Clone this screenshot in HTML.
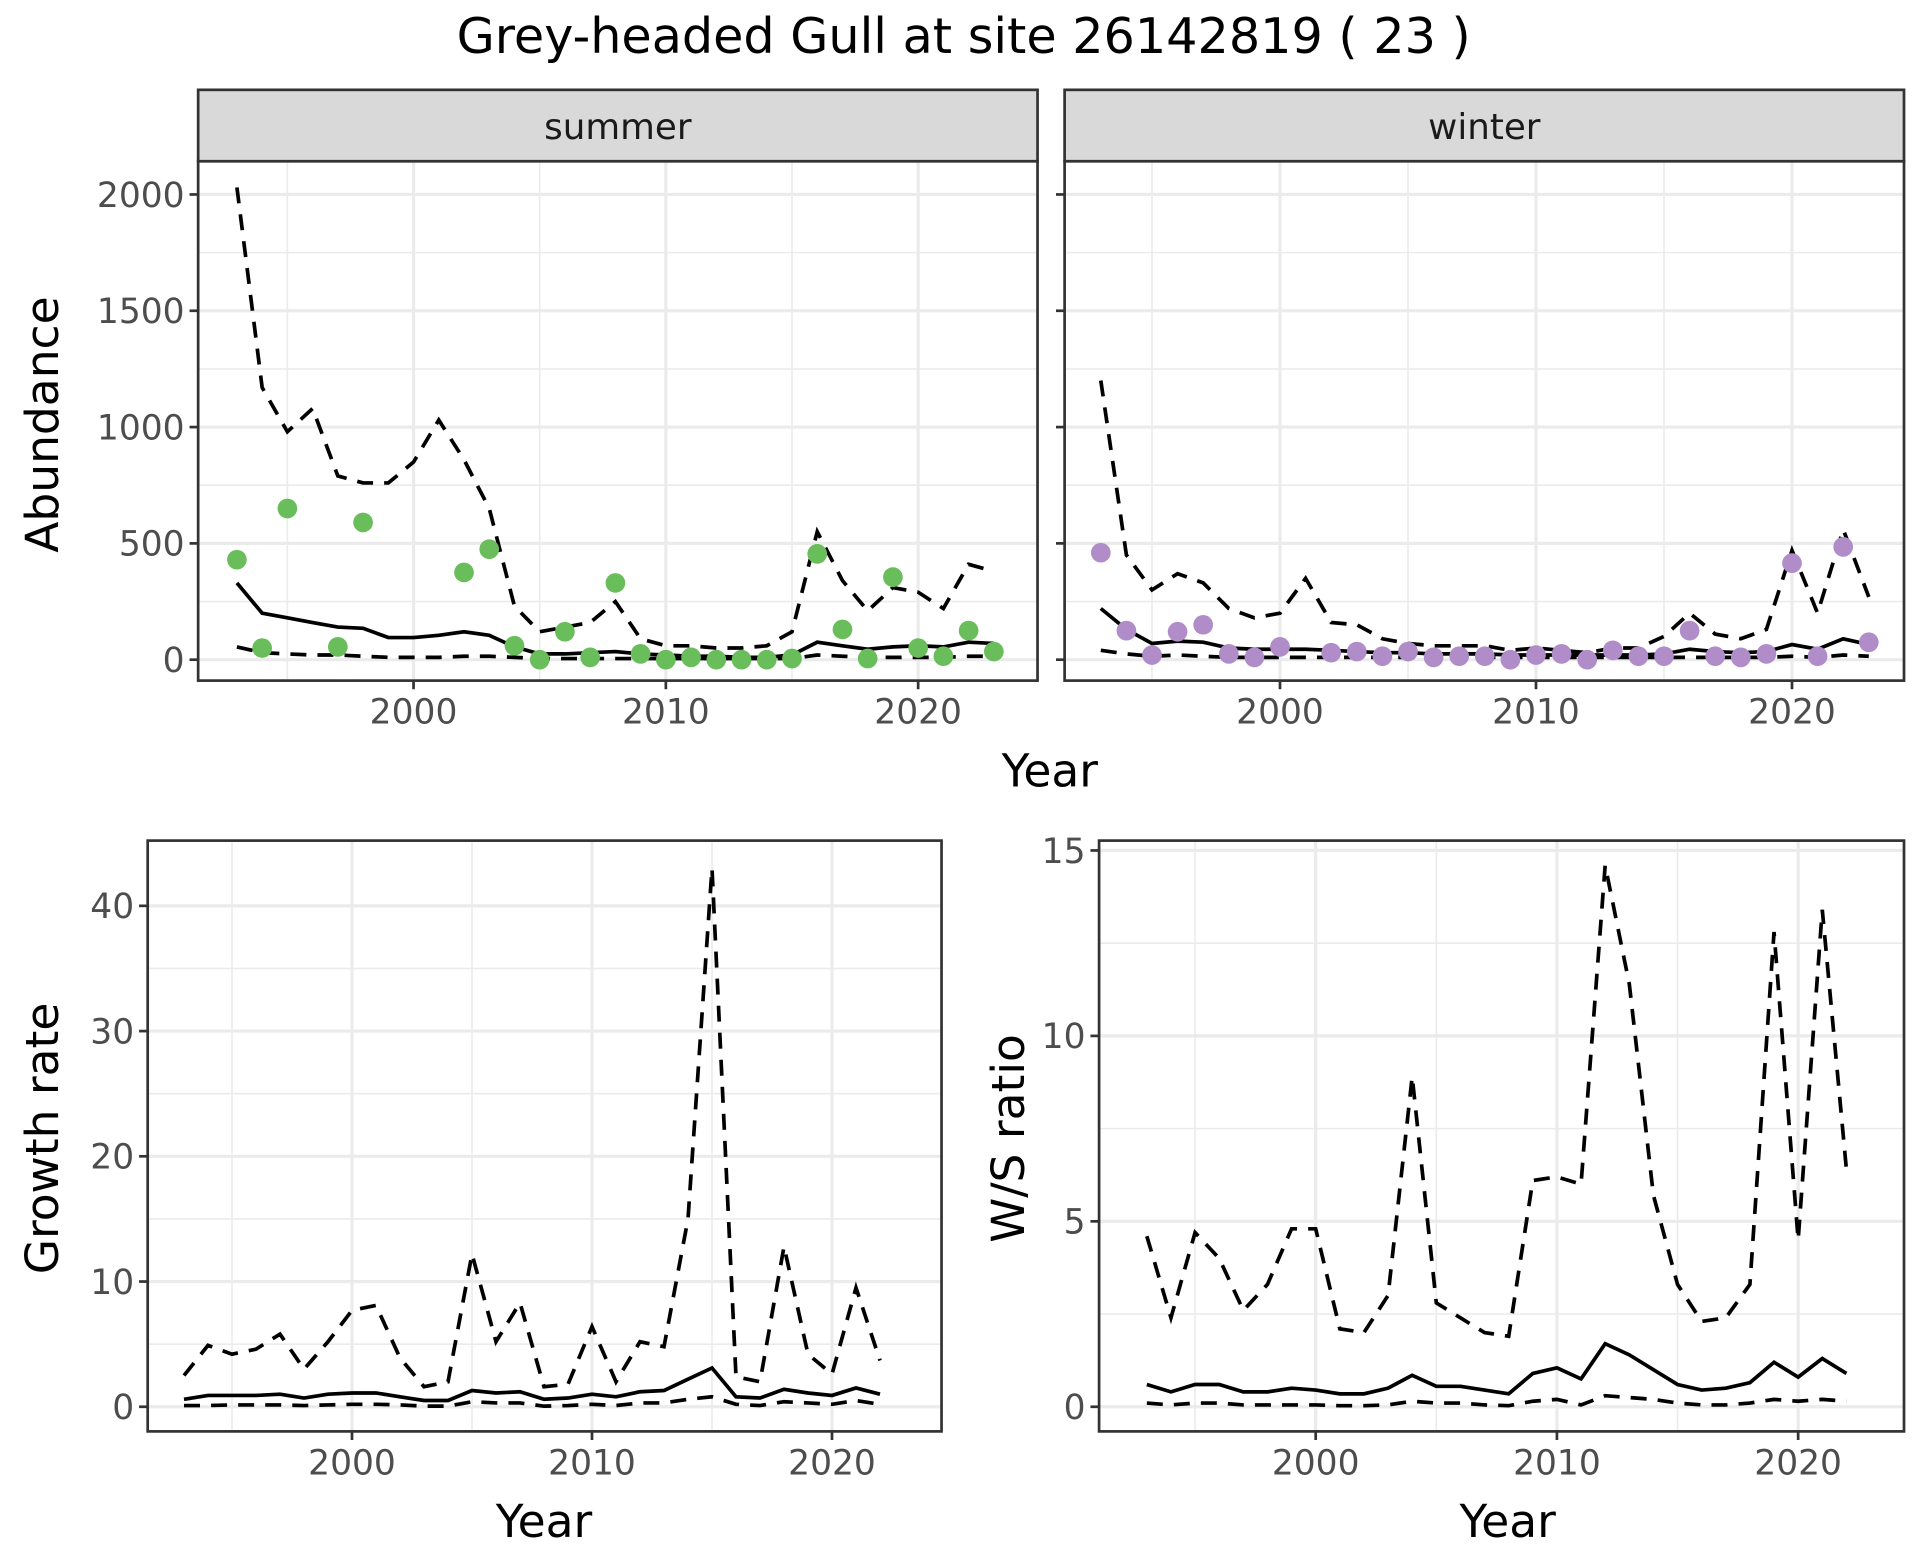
<!DOCTYPE html>
<html><head><meta charset="utf-8"><style>
html,body{margin:0;padding:0;background:#fff;}
svg{display:block;font-family:"DejaVu Sans","Liberation Sans",sans-serif;}
</style></head><body>
<svg id="chart" width="1920" height="1560" viewBox="0 0 1560 1267.5" xmlns="http://www.w3.org/2000/svg">
<rect width="1560" height="1268" fill="#fff"/>
<text x="783" y="43" font-size="40" text-anchor="middle" fill="#000">Grey-headed Gull at site 26142819 ( 23 )</text>
<g id="plots"></g>
</svg>
<script>
const yearsAll = [1993,1994,1995,1996,1997,1998,1999,2000,2001,2002,2003,2004,2005,2006,2007,2008,2009,2010,2011,2012,2013,2014,2015,2016,2017,2018,2019,2020,2021,2022,2023];
const summerPtYears = [1993,1994,1995,1997,1998,2002,2003,2004,2005,2006,2007,2008,2009,2010,2011,2012,2013,2014,2015,2016,2017,2018,2019,2020,2021,2022,2023];
const summerPts = [430,50,650,55,590,375,475,60,0,120,10,330,25,0,10,0,0,0,5,455,130,5,355,50,15,125,35];
const summerMean = [330,200,180,160,140,135,95,95,105,120,105,55,25,25,30,35,25,20,15,15,10,10,20,75,60,45,55,60,55,75,70];
const summerUpper = [2030,1170,980,1080,790,760,760,850,1030,860,650,230,120,140,160,250,90,60,60,50,50,60,120,550,340,210,310,290,220,410,380];
const summerLower = [55,30,25,20,20,15,10,10,10,15,15,10,5,5,5,5,5,5,5,5,5,5,5,20,15,10,10,10,10,15,15];
const winterPtYears = [1993,1994,1995,1996,1997,1998,1999,2000,2002,2003,2004,2005,2006,2007,2008,2009,2010,2011,2012,2013,2014,2015,2016,2017,2018,2019,2020,2021,2022,2023];
const winterPts = [460,125,20,120,150,25,10,55,30,35,15,35,10,15,15,0,20,25,0,40,15,15,125,15,10,25,415,15,485,75];
const winterMean = [220,130,70,80,75,50,45,45,45,40,35,30,30,25,25,25,20,20,20,20,20,20,25,45,35,30,35,65,45,90,65];
const winterUpper = [1200,450,300,370,330,220,180,200,350,160,150,90,70,60,60,60,40,50,40,30,50,50,100,200,110,90,130,470,200,560,270];
const winterLower = [40,25,15,20,15,10,10,10,10,10,10,10,10,10,10,10,10,10,10,10,10,10,10,10,10,10,10,15,10,20,15];
const yearsRatio = [1993,1994,1995,1996,1997,1998,1999,2000,2001,2002,2003,2004,2005,2006,2007,2008,2009,2010,2011,2012,2013,2014,2015,2016,2017,2018,2019,2020,2021,2022];
const growthMean = [0.6,0.9,0.9,0.9,1.0,0.7,1.0,1.1,1.1,0.8,0.5,0.5,1.3,1.1,1.2,0.6,0.7,1.0,0.8,1.2,1.3,2.2,3.1,0.8,0.7,1.4,1.1,0.9,1.5,1.0];
const growthUpper = [2.5,4.9,4.2,4.6,5.8,3.0,5.2,7.7,8.1,3.9,1.6,2.0,12.2,5.2,8.3,1.6,1.8,6.4,2.0,5.2,4.8,15.0,43.0,2.4,2.0,12.8,4.2,2.6,9.5,3.7];
const growthLower = [0.1,0.1,0.15,0.15,0.15,0.1,0.15,0.2,0.2,0.15,0.05,0.05,0.4,0.3,0.3,0.05,0.1,0.2,0.1,0.3,0.3,0.6,0.8,0.2,0.1,0.4,0.3,0.2,0.5,0.2];
const wsMean = [0.6,0.4,0.6,0.6,0.4,0.4,0.5,0.45,0.35,0.35,0.5,0.85,0.55,0.55,0.45,0.35,0.9,1.05,0.75,1.7,1.4,1.0,0.6,0.45,0.5,0.65,1.2,0.8,1.3,0.9];
const wsUpper = [4.6,2.4,4.7,4.0,2.6,3.3,4.8,4.8,2.1,2.0,3.0,8.9,2.8,2.4,2.0,1.9,6.1,6.2,6.0,14.6,11.4,5.7,3.3,2.3,2.4,3.3,12.8,4.5,13.4,6.4];
const wsLower = [0.1,0.05,0.1,0.1,0.05,0.05,0.05,0.05,0.03,0.03,0.05,0.15,0.1,0.1,0.05,0.03,0.15,0.2,0.05,0.3,0.25,0.2,0.1,0.05,0.05,0.1,0.2,0.15,0.2,0.15];
const xTicks = [2000,2010,2020];
const xMinor = [1995,2005,2015];
const abundTicks = [0,500,1000,1500,2000];
const growthTicks = [0,10,20,30,40];
const wsTicks = [0,5,10,15];

const NS='http://www.w3.org/2000/svg';
const root=document.getElementById('plots');
function mk(tag,attrs,parent){const e=document.createElementNS(NS,tag);for(const k in attrs)e.setAttribute(k,attrs[k]);(parent||root).appendChild(e);return e;}

function panel(name,x0,x1,y0,y1,xd,yd,yT,yMinor,showY){
  const g=mk('g',{});
  
  
  const sx=v=>x0+(v-xd[0])/(xd[1]-xd[0])*(x1-x0);
  const sy=v=>y1-(v-yd[0])/(yd[1]-yd[0])*(y1-y0);
  mk('rect',{x:x0,y:y0,width:x1-x0,height:y1-y0,fill:'#fff'},g);
  yMinor.forEach(v=>{mk('line',{x1:x0,x2:x1,y1:sy(v),y2:sy(v),stroke:'#ebebeb','stroke-width':1.3},g);});
  xMinor.forEach(v=>{mk('line',{x1:sx(v),x2:sx(v),y1:y0,y2:y1,stroke:'#ebebeb','stroke-width':1.3},g);});
  yT.forEach(v=>{
    mk('line',{x1:x0,x2:x1,y1:sy(v),y2:sy(v),stroke:'#ebebeb','stroke-width':2.6},g);
    mk('line',{x1:x0-7,x2:x0,y1:sy(v),y2:sy(v),stroke:'#333','stroke-width':2.2},g);
    if(showY){const t=mk('text',{x:x0-11,y:sy(v)+10,'font-size':28,'text-anchor':'end',fill:'#4d4d4d'},g);t.textContent=v;
      
      }
  });
  xTicks.forEach(v=>{
    mk('line',{x1:sx(v),x2:sx(v),y1:y0,y2:y1,stroke:'#ebebeb','stroke-width':2.6},g);
    mk('line',{x1:sx(v),x2:sx(v),y1:y1,y2:y1+7,stroke:'#333','stroke-width':2.2},g);
    const t=mk('text',{x:sx(v),y:y1+35,'font-size':28,'text-anchor':'middle',fill:'#4d4d4d'},g);t.textContent=v;
    
    
  });
  return {g,sx,sy,frame:()=>mk('rect',{x:x0,y:y0,width:x1-x0,height:y1-y0,fill:'none',stroke:'#333','stroke-width':2.2},g)};
}
function line(p,xs,ys,dash,name){
  const d=xs.map((x,i)=>(i?'L':'M')+p.sx(x).toFixed(1)+' '+p.sy(ys[i]).toFixed(1)).join(' ');
  const e=mk('path',{d:d,fill:'none',stroke:'#000','stroke-width':3,'stroke-dasharray':dash?'13 9':'none'},p.g);
  
  
}
function pts(p,xs,ys,col,name){
  xs.forEach((x,i)=>{const c=mk('circle',{cx:p.sx(x),cy:p.sy(ys[i]),r:8,fill:col},p.g);
    
    });
}
function strip(x0,x1,label){
  const r=mk('rect',{x:x0,y:73,width:x1-x0,height:58,fill:'#d9d9d9',stroke:'#333','stroke-width':2.2});
  
  
  const t=mk('text',{x:(x0+x1)/2,y:113,'font-size':29,'text-anchor':'middle',fill:'#1a1a1a'});t.textContent=label;
  
  
}
function label(txt,x,y,rot,name){
  const t=mk('text',{x:x,y:y,'font-size':37,'text-anchor':'middle',fill:'#000',transform:rot?`rotate(-90 ${x} ${y})`:''});t.textContent=txt;
  
  
}
function xdFrom(x2000,x2010,x0,x1){const ppy=(x2010-x2000)/10;return [2000-(x2000-x0)/ppy,2000+(x1-x2000)/ppy];}
const ayd=[0-(553-536)/0.189,(536-131)/0.189];
const ps=panel('summer-panel',161,843,131,553,xdFrom(336,541,161,843),ayd,abundTicks,[250,750,1250,1750],true);
line(ps,yearsAll,summerUpper,true,'summer-upper-line');
line(ps,yearsAll,summerLower,true,'summer-lower-line');
line(ps,yearsAll,summerMean,false,'summer-mean-line');
pts(ps,summerPtYears,summerPts,'#6abd5b','summer-point');
ps.frame();
const pw=panel('winter-panel',865,1547,131,553,xdFrom(1040,1248,865,1547),ayd,abundTicks,[250,750,1250,1750],false);
line(pw,yearsAll,winterUpper,true,'winter-upper-line');
line(pw,yearsAll,winterLower,true,'winter-lower-line');
line(pw,yearsAll,winterMean,false,'winter-mean-line');
pts(pw,winterPtYears,winterPts,'#b08cc8','winter-point');
pw.frame();
strip(161,843,'summer');strip(865,1547,'winter');
label('Year',853,639,false,'x-axis-title-top');
label('Abundance',47,345,true,'y-axis-title-abundance');
const gppu=(1143-736)/40;
const pg=panel('growth-panel',120,765,683,1163,xdFrom(286,481,120,765),[-(1163-1143)/gppu,(1143-683)/gppu],growthTicks,[5,15,25,35],true);
line(pg,yearsRatio,growthUpper,true,'growth-upper-line');
line(pg,yearsRatio,growthLower,true,'growth-lower-line');
line(pg,yearsRatio,growthMean,false,'growth-mean-line');
pg.frame();
label('Year',442,1249,false,'x-axis-title-growth');
label('Growth rate',47,925,true,'y-axis-title-growth');
const wppu=(1143-691)/15;
const pr=panel('ws-ratio-panel',893,1547,683,1163,xdFrom(1069,1265,893,1547),[-(1163-1143)/wppu,(1143-683)/wppu],wsTicks,[2.5,7.5,12.5],true);
line(pr,yearsRatio,wsUpper,true,'ws-upper-line');
line(pr,yearsRatio,wsLower,true,'ws-lower-line');
line(pr,yearsRatio,wsMean,false,'ws-mean-line');
pr.frame();
label('Year',1225,1249,false,'x-axis-title-ws');
label('W/S ratio',832,925,true,'y-axis-title-ws');
</script>
</body></html>
